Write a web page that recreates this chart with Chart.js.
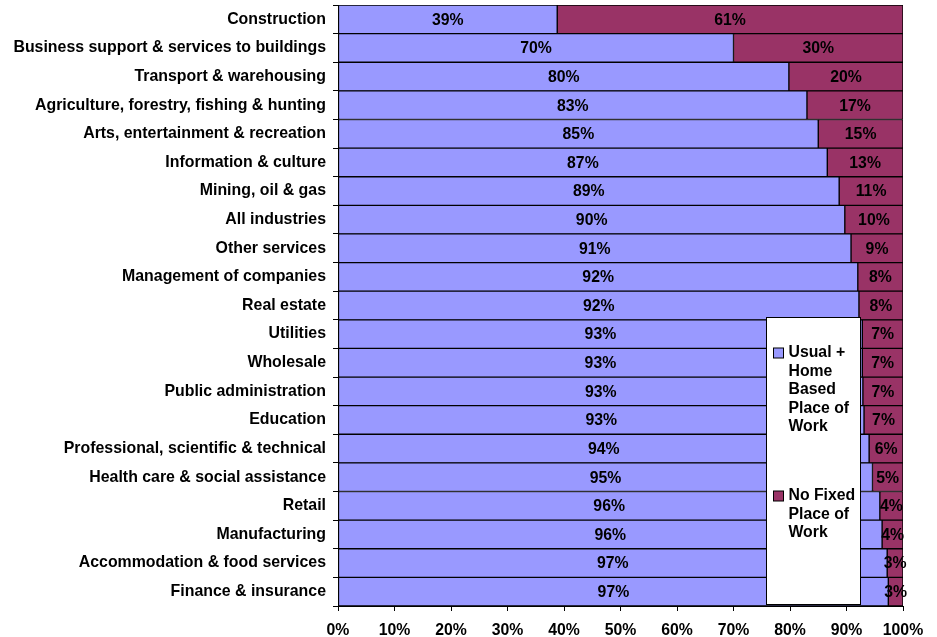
<!DOCTYPE html>
<html>
<head>
<meta charset="utf-8">
<script src="https://cdn.jsdelivr.net/npm/chart.js@4/dist/chart.umd.min.js"></script>
<style>
  html, body { margin: 0; padding: 0; background: #fff; }
  #wrap { width: 937px; height: 637px; position: relative; }
</style>
</head>
<body>
<div id="wrap"><canvas id="chart"></canvas></div>
<script>
// Categories, top to bottom
const industries = [
  "Construction",
  "Business support & services to buildings",
  "Transport & warehousing",
  "Agriculture, forestry, fishing & hunting",
  "Arts, entertainment & recreation",
  "Information & culture",
  "Mining, oil & gas",
  "All industries",
  "Other services",
  "Management of companies",
  "Real estate",
  "Utilities",
  "Wholesale",
  "Public administration",
  "Education",
  "Professional, scientific & technical",
  "Health care & social assistance",
  "Retail",
  "Manufacturing",
  "Accommodation & food services",
  "Finance & insurance",
]

// Share of workers (%)
const usualHome = [38.8, 70, 79.8, 83, 85, 86.6, 88.7, 89.7, 90.8, 92, 92.2, 92.8, 92.8, 92.9, 93.1, 94, 94.6, 95.9, 96.3, 97.2, 97.4]
const noFixed = [61.2, 30, 20.2, 17, 15, 13.4, 11.3, 10.3, 9.2, 8, 7.8, 7.2, 7.2, 7.1, 6.9, 6, 5.4, 4.1, 3.7, 2.8, 2.6]

const xTicks = [0, 10, 20, 30, 40, 50, 60, 70, 80, 90, 100]

const seriesNames = [
  ["Usual +", "Home", "Based", "Place of", "Work"],
  ["No Fixed", "Place of", "Work"],
]

const FONT = "bold 15.8px 'Liberation Sans', Arial, sans-serif"

// Percent labels centred in every segment
const segmentLabels = {
  id: "segmentLabels",
  afterDatasetsDraw(chart) {
    const ctx = chart.ctx
    ctx.save()
    ctx.font = FONT
    ctx.fillStyle = "#000"
    ctx.textAlign = "center"
    ctx.textBaseline = "middle"
    chart.data.datasets.forEach((ds, i) => {
      chart.getDatasetMeta(i).data.forEach((bar, j) => {
        const cx = (bar.x + bar.base) / 2
        ctx.fillText(Math.round(ds.data[j]) + "%", cx, bar.y + 1)
      })
    })
    ctx.restore()
  },
}

// Boxed legend sitting inside the plot, lower right
const boxLegend = {
  id: "boxLegend",
  afterDraw(chart) {
    const ctx = chart.ctx
    const area = chart.chartArea
    const x = chart.scales.x
    const left = Math.round(x.getPixelForValue(75.75)) + 0.5
    const right = Math.round(x.getPixelForValue(92.4)) + 0.5
    const top = 317.5
    const bottom = area.bottom - 1.5
    ctx.save()
    ctx.fillStyle = "#fff"
    ctx.fillRect(left, top, right - left, bottom - top)
    ctx.strokeStyle = "#000"
    ctx.lineWidth = 1
    ctx.strokeRect(left, top, right - left, bottom - top)
    ctx.font = FONT
    ctx.textBaseline = "middle"
    ctx.textAlign = "left"
    const starts = [353, 496]
    chart.data.datasets.forEach((ds, i) => {
      const y0 = starts[i]
      ctx.fillStyle = ds.backgroundColor
      ctx.fillRect(left + 7, y0 - 5, 10, 10)
      ctx.strokeRect(left + 7, y0 - 5, 10, 10)
      ctx.fillStyle = "#000"
      seriesNames[i].forEach((line, k) => {
        ctx.fillText(line, left + 22, y0 + k * 18.4)
      })
    })
    ctx.restore()
  },
}

new Chart(document.getElementById("chart"), {
  type: "bar",
  data: {
    labels: industries,
    datasets: [
      {
        label: "Usual + Home Based Place of Work",
        data: usualHome,
        backgroundColor: "#9999FF",
        borderColor: "#000",
        borderWidth: 1,
        borderSkipped: false,
        barPercentage: 1,
        categoryPercentage: 1,
      },
      {
        label: "No Fixed Place of Work",
        data: noFixed,
        backgroundColor: "#993366",
        borderColor: "#000",
        borderWidth: 1,
        borderSkipped: false,
        barPercentage: 1,
        categoryPercentage: 1,
      },
    ],
  },
  options: {
    indexAxis: "y",
    responsive: true,
    maintainAspectRatio: false,
    animation: false,
    layout: { padding: { left: 0, top: 5, right: 34, bottom: 0 } },
    plugins: {
      legend: { display: false },
      tooltip: { enabled: false },
    },
    scales: {
      x: {
        stacked: true,
        min: 0,
        max: 100,
        afterBuildTicks: (axis) => {
          axis.ticks = xTicks.map((v) => ({ value: v }))
        },
        afterFit: (axis) => {
          axis.height = 31
        },
        border: { display: true, color: "#000", width: 1 },
        grid: { drawOnChartArea: false, drawTicks: true, tickLength: 5, color: "#000" },
        ticks: {
          color: "#000",
          font: { family: "'Liberation Sans', Arial, sans-serif", size: 15.8, weight: "bold" },
          padding: 10,
          maxRotation: 0,
          autoSkip: false,
          callback: (v) => v + "%",
        },
      },
      y: {
        stacked: true,
        afterFit: (axis) => {
          axis.width = 338
          axis.paddingTop = 0
          axis.paddingBottom = 0
        },
        border: { display: true, color: "#000", width: 1 },
        grid: { offset: true, drawOnChartArea: false, drawTicks: true, tickLength: 5, color: "#000" },
        ticks: {
          color: "#000",
          font: { family: "'Liberation Sans', Arial, sans-serif", size: 15.9, weight: "bold" },
          padding: 7,
          autoSkip: false,
        },
      },
    },
  },
  plugins: [segmentLabels, boxLegend],
})
</script>
</body>
</html>
